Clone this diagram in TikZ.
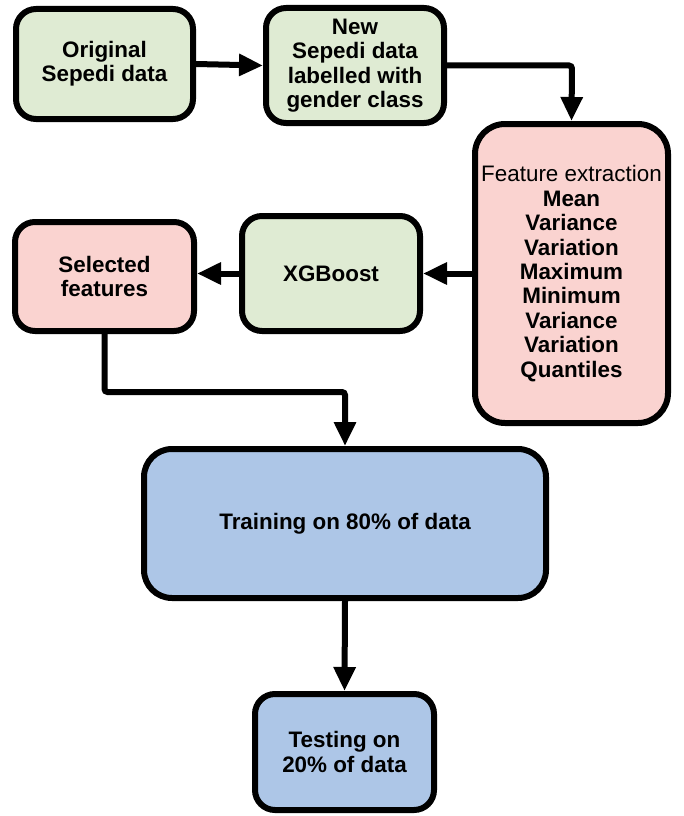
\documentclass[tikz,border=0pt]{standalone}
\usepackage{fontspec}
\setmainfont{Liberation Sans}
\usetikzlibrary{arrows.meta}
\definecolor{gfill}{HTML}{DFEBD3}
\definecolor{pfill}{HTML}{FAD3D0}
\definecolor{bfill}{HTML}{ADC6E7}
\tikzset{
  box/.style={draw=black, line width=6pt, rounded corners=20pt, inner sep=0pt, align=center,
    font=\fontsize{22.4}{24.4}\selectfont\bfseries},
  conn/.style={line width=6pt, -{Triangle[length=24pt,width=21pt]}, rounded corners=3pt}
}
\begin{document}
\begin{tikzpicture}[x=1pt,y=-1pt]
\useasboundingbox (0,0) rectangle (683,816);
\node[box, fill=gfill, minimum width=177pt, minimum height=110pt] (orig) at (104.5,64) {Original\\Sepedi data};
\node[box, fill=gfill, minimum width=178pt, minimum height=115pt] (new) at (355,65.5) {New\\Sepedi data\\labelled with\\gender class};
\node[box, fill=pfill, rounded corners=30pt, minimum width=193pt, minimum height=299pt] (feat) at (571.5,273.5)
  {{\mdseries Feature extraction}\\Mean\\Variance\\Variation\\Maximum\\Minimum\\Variance\\Variation\\Quantiles};
\node[box, fill=gfill, minimum width=178pt, minimum height=115pt] (xgb) at (331,273.5) {XGBoost};
\node[box, fill=pfill, minimum width=179pt, minimum height=109pt] (sel) at (104.5,276.5) {Selected\\features};
\node[box, fill=bfill, rounded corners=28pt, minimum width=402pt, minimum height=149pt] (train) at (345,523.5) {Training on 80\% of data};
\node[box, fill=bfill, minimum width=179pt, minimum height=116pt] (test) at (344.5,752) {Testing on\\20\% of data};
\coordinate (c1) at (572,65.5);
\coordinate (c2) at (104.5,392);
\coordinate (c3) at (345,392);
\draw[conn] (orig.east) -- (new.west);
\draw[conn] (new.east) -- (c1) -- (feat.north);
\draw[conn] (feat.west) -- (xgb.east);
\draw[conn] (xgb.west) -- (sel.east |- xgb.west);
\draw[conn] (sel.south) -- (c2) -- (c3) -- (train.north);
\draw[conn] (train.south) -- (test.north);
\end{tikzpicture}
\end{document}
